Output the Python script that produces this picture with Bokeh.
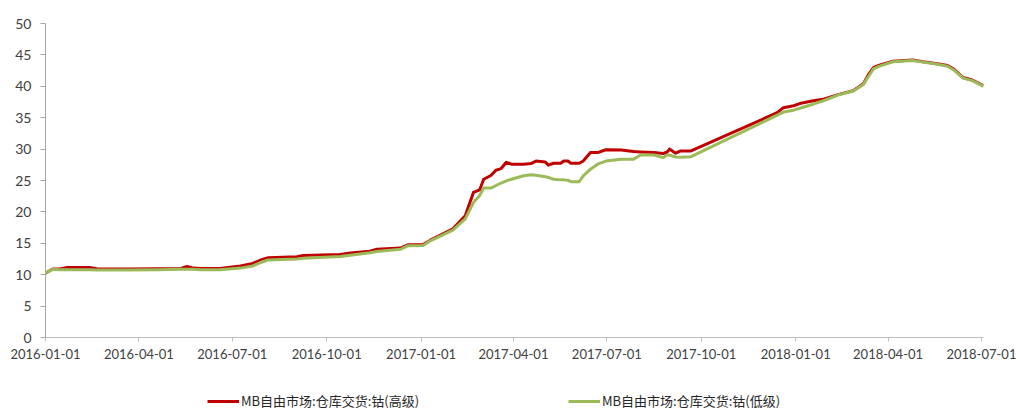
import pandas as pd
from datetime import datetime
from bokeh.plotting import figure
from bokeh.layouts import column
from bokeh.models import (ColumnDataSource, Range1d, FixedTicker, DatetimeTickFormatter,
                          Legend, LegendItem)
from bokeh.embed import file_html
from bokeh.resources import INLINE

# ---------------- data ----------------
dates = [
    "2016-01-01", "2016-01-08", "2016-01-15", "2016-01-22", "2016-02-13", "2016-02-20",
    "2016-03-20", "2016-04-20", "2016-05-12", "2016-05-18", "2016-05-24", "2016-05-31",
    "2016-06-19", "2016-07-09", "2016-07-21", "2016-07-28", "2016-08-05", "2016-09-02",
    "2016-09-08", "2016-10-14", "2016-10-24", "2016-11-12", "2016-11-19", "2016-12-12",
    "2016-12-19", "2017-01-03", "2017-01-10", "2017-02-01", "2017-02-13", "2017-02-21",
    "2017-02-27", "2017-03-03", "2017-03-10", "2017-03-15", "2017-03-20", "2017-03-25",
    "2017-03-30", "2017-04-11", "2017-04-18", "2017-04-23", "2017-05-02", "2017-05-05",
    "2017-05-10", "2017-05-17", "2017-05-20", "2017-05-24", "2017-05-27", "2017-06-04",
    "2017-06-08", "2017-06-15", "2017-06-22", "2017-06-30", "2017-07-15", "2017-07-27",
    "2017-08-03", "2017-08-16", "2017-08-25", "2017-08-29", "2017-08-31", "2017-09-06",
    "2017-09-11", "2017-09-21", "2017-12-14", "2017-12-20", "2017-12-30", "2018-01-05",
    "2018-01-18", "2018-01-28", "2018-02-13", "2018-02-26", "2018-03-08", "2018-03-13",
    "2018-03-18", "2018-03-25", "2018-04-06", "2018-04-25", "2018-05-05", "2018-05-19",
    "2018-05-29", "2018-06-04", "2018-06-13", "2018-06-22", "2018-07-03",
]
cobalt_high = [
    10.25, 10.9, 10.9, 11.15, 11.15, 10.95,
    10.9, 10.95, 11.0, 11.3, 11.05, 11.0,
    11.0, 11.4, 11.8, 12.3, 12.7, 12.85,
    13.05, 13.2, 13.45, 13.75, 14.05, 14.25,
    14.75, 14.8, 15.5, 17.3, 19.4, 23.1,
    23.5, 25.2, 25.8, 26.65, 26.9, 27.9,
    27.6, 27.6, 27.7, 28.1, 27.95, 27.45,
    27.75, 27.75, 28.1, 28.1, 27.75, 27.75,
    28.1, 29.45, 29.45, 29.9, 29.85, 29.6,
    29.55, 29.45, 29.3, 29.55, 30.0, 29.35,
    29.7, 29.7, 35.8, 36.6, 36.9, 37.25,
    37.7, 37.95, 38.75, 39.3, 40.4, 41.9,
    43.0, 43.45, 44.0, 44.2, 43.9, 43.6,
    43.3, 42.75, 41.4, 41.0, 40.1,
]
cobalt_low = [
    10.25, 10.85, 10.8, 10.8, 10.8, 10.75,
    10.75, 10.8, 10.85, 10.85, 10.85, 10.8,
    10.8, 11.05, 11.4, 11.9, 12.35, 12.5,
    12.6, 12.9, 13.1, 13.5, 13.7, 14.05,
    14.6, 14.65, 15.4, 17.1, 18.9, 21.5,
    22.6, 23.8, 23.8, 24.2, 24.6, 24.95,
    25.2, 25.75, 25.9, 25.85, 25.6, 25.5,
    25.2, 25.1, 25.1, 25.05, 24.8, 24.8,
    25.75, 26.8, 27.6, 28.1, 28.4, 28.4,
    29.05, 29.05, 28.65, 29.05, 29.05, 28.75,
    28.7, 28.8, 35.4, 35.9, 36.2, 36.5,
    37.15, 37.7, 38.7, 39.25, 40.3, 41.6,
    42.8, 43.3, 43.9, 44.1, 43.85, 43.5,
    43.2, 42.6, 41.3, 40.9, 40.0,
]
series_names = ["MB自由市场:仓库交货:钴(高级)", "MB自由市场:仓库交货:钴(低级)"]
series_colors = ["#C00000", "#9BBB59"]
tick_dates = ["2016-01-01", "2016-04-01", "2016-07-01", "2016-10-01", "2017-01-01",
              "2017-04-01", "2017-07-01", "2017-10-01", "2018-01-01", "2018-04-01",
              "2018-07-01"]
y_ticks = [0, 5, 10, 15, 20, 25, 30, 35, 40, 45, 50]

# ---------------- main figure ----------------
src = ColumnDataSource(dict(date=pd.to_datetime(dates), high=cobalt_high, low=cobalt_low))

p = figure(width=1016, height=372, output_backend="svg", toolbar_location=None,
           x_axis_type="datetime",
           x_range=Range1d(datetime(2016, 1, 1), datetime(2018, 7, 3)),
           y_range=Range1d(0, 50),
           min_border_left=45, min_border_right=33, min_border_top=23, min_border_bottom=35)
p.outline_line_color = None
p.grid.grid_line_color = None

r_high = p.line("date", "high", source=src, line_color=series_colors[0], line_width=3,
                line_join="round")
r_low = p.line("date", "low", source=src, line_color=series_colors[1], line_width=3,
               line_join="round")

label_font = "Lato"
xa = p.xaxis[0]
xa.ticker = FixedTicker(ticks=[pd.Timestamp(d).value / 1e6 for d in tick_dates])
xa.formatter = DatetimeTickFormatter(days="%Y-%m-%d", months="%Y-%m-%d", years="%Y-%m-%d")
xa.axis_line_color = "#BFBFBF"
xa.major_tick_line_color = "#BFBFBF"
xa.major_tick_in = 0
xa.major_tick_out = 4
xa.minor_tick_line_color = None
xa.major_label_standoff = 7
xa.major_label_text_font = label_font
xa.major_label_text_font_size = "13px"
xa.major_label_text_color = "#404040"

ya = p.yaxis[0]
ya.ticker = FixedTicker(ticks=y_ticks)
ya.axis_line_color = "#A6A6A6"
ya.major_tick_line_color = "#A6A6A6"
ya.major_tick_in = 0
ya.major_tick_out = 5
ya.minor_tick_line_color = None
ya.major_label_standoff = 9
ya.major_label_text_font = label_font
ya.major_label_text_font_size = "14px"
ya.major_label_text_color = "#404040"

# ---------------- legend strip ----------------
leg = figure(width=1016, height=38, output_backend="svg", toolbar_location=None,
             x_range=Range1d(0, 1), y_range=Range1d(0, 1),
             x_axis_location=None, y_axis_location=None, min_border=0)
leg.outline_line_color = None
leg.grid.grid_line_color = None

# legend sample lines: renderers whose data lies outside the strip's visible range
for name, color, xpos in zip(series_names, series_colors, [162, 523]):
    sample = leg.line(x=[-5, -4], y=[-5, -4], line_color=color, line_width=3)
    lg = Legend(items=[LegendItem(label=name, renderers=[sample])], location=(xpos, 0),
                orientation="horizontal", background_fill_alpha=0, border_line_color=None,
                padding=0, margin=0, glyph_width=32, glyph_height=14, label_height=14,
                label_standoff=2, label_text_font="Noto Sans CJK SC",
                label_text_font_size="13px", label_text_color="#262626")
    leg.add_layout(lg, "center")

layout = column(p, leg, spacing=0)
open("out.html", "w").write(file_html(layout, INLINE))
